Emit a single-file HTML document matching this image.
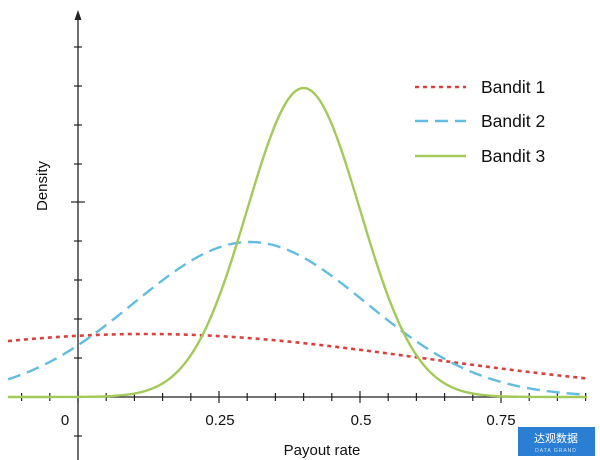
<!DOCTYPE html>
<html><head><meta charset="utf-8"><style>
body{margin:0;background:#fff;}
svg{display:block;font-family:"Liberation Sans",Arial,sans-serif;}
</style></head><body>
<svg id="s" width="600" height="460" viewBox="0 0 600 460" xmlns="http://www.w3.org/2000/svg">
<g stroke="#222" stroke-width="1.3" fill="none">
<line x1="78" y1="16" x2="78" y2="460"/>
<line x1="8" y1="397" x2="587" y2="397"/>
</g>
<polygon points="78,10 74.5,20 81.5,20" fill="#222"/>
<g id="ticks" stroke="#222" stroke-width="1.2"></g>
<g font-size="15" fill="#111" text-anchor="middle">
<text x="65" y="425">0</text>
<text x="220" y="425">0.25</text>
<text x="361" y="425">0.5</text>
<text x="501" y="425">0.75</text>
<text x="322" y="455">Payout rate</text>
<text transform="translate(47,186) rotate(-90)">Density</text>
</g>
<path id="p1" fill="none" stroke="#d9413f" stroke-width="2.6" stroke-dasharray="4,4"/>
<path id="p2" fill="none" stroke="#62bde0" stroke-width="2.4" stroke-dasharray="13,7"/>
<path id="p3" fill="none" stroke="#a3c958" stroke-width="2.4"/>
<line x1="415" y1="87" x2="466" y2="87" stroke="#d9413f" stroke-width="2.6" stroke-dasharray="4,4"/>
<line x1="415" y1="121" x2="466" y2="121" stroke="#62bde0" stroke-width="2.4" stroke-dasharray="13,7"/>
<line x1="415" y1="156" x2="466" y2="156" stroke="#a3c958" stroke-width="2.4"/>
<g font-size="17.5" fill="#111">
<text x="481" y="93">Bandit 1</text>
<text x="481" y="127">Bandit 2</text>
<text x="481" y="162">Bandit 3</text>
</g>
<rect x="518" y="427" width="77" height="29" fill="#2a7fd5"/>
<text x="556" y="442" font-size="11" fill="#fff" text-anchor="middle" font-family="'Noto Sans CJK SC',sans-serif">达观数据</text>
<text x="556" y="452" font-size="5" fill="#cfe3f7" text-anchor="middle" letter-spacing="1">DATA GRAND</text>
</svg>
<script>
var ns="http://www.w3.org/2000/svg",t=document.getElementById("ticks");
function L(a,b,c,d){var l=document.createElementNS(ns,"line");l.setAttribute("x1",a);l.setAttribute("y1",b);l.setAttribute("x2",c);l.setAttribute("y2",d);t.appendChild(l);}
for(var i=-2;i<=18;i++){var x=78+i*28.2;if(x<8||x>587)continue;var big=(i%5==0);L(x,big?391:393,x,big?403:401);}
var ys=[47,86,125,164,202,241,280,319,358,436];
ys.forEach(function(y){var big=(y==202);L(big?71:74,y,big?85:82,y);});
function curve(id,m,s,h){var d="";for(var x=8;x<=587;x+=1){var v=(x-78)/564;var y=397-h*Math.exp(-(v-m)*(v-m)/(2*s*s));d+=(x==8?"M":"L")+x+","+y.toFixed(2);}document.getElementById(id).setAttribute("d",d);}
curve("p1",0.12,0.5,63);
curve("p2",0.305,0.206,155);
curve("p3",0.4,0.1,309);
</script>
</body></html>
